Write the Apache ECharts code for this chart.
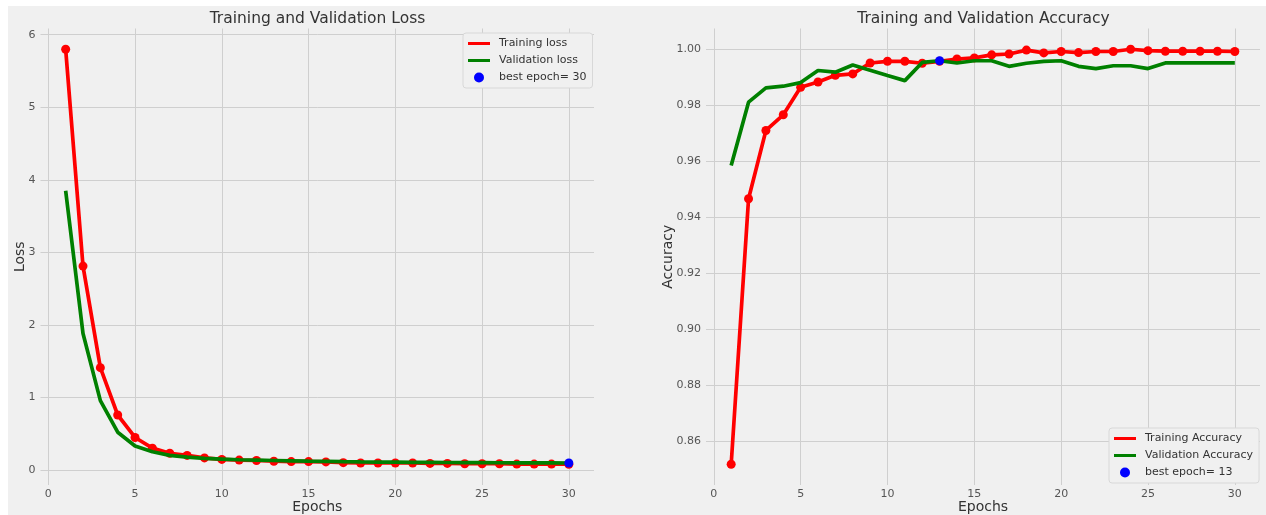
<!DOCTYPE html>
<html>
<head>
<meta charset="utf-8">
<script src="https://cdn.jsdelivr.net/npm/echarts@6/dist/echarts.min.js"></script>
<style>
  html, body { margin: 0; padding: 0; background: #ffffff; width: 1266px; height: 515px; overflow: hidden; }
  #chart { position: absolute; left: 8px; top: 6px; width: 1258px; height: 509px; background: #f0f0f0; }
</style>
</head>
<body>
<div id="chart"></div>
<script>
// ---------- data ----------
const epochs = [1,2,3,4,5,6,7,8,9,10,11,12,13,14,15,16,17,18,19,20,21,22,23,24,25,26,27,28,29,30];
const lossTrain = [5.80, 2.81, 1.41, 0.757, 0.447, 0.30, 0.23, 0.20, 0.165, 0.145, 0.135, 0.13, 0.12, 0.115, 0.115, 0.11, 0.10, 0.095, 0.095, 0.095, 0.095, 0.09, 0.09, 0.085, 0.085, 0.085, 0.08, 0.08, 0.08, 0.078];
const lossVal = [3.85, 1.88, 0.955, 0.52, 0.33, 0.25, 0.20, 0.175, 0.16, 0.15, 0.14, 0.135, 0.13, 0.125, 0.12, 0.117, 0.113, 0.11, 0.108, 0.106, 0.104, 0.103, 0.102, 0.101, 0.100, 0.099, 0.098, 0.097, 0.096, 0.095];
const accTrain = [0.8517, 0.9465, 0.9709, 0.9765, 0.9863, 0.9882, 0.9906, 0.9911, 0.9950, 0.9956, 0.9956, 0.9949, 0.9956, 0.9964, 0.9968, 0.9979, 0.9982, 0.9996, 0.9986, 0.9991, 0.9987, 0.9991, 0.9991, 0.9999, 0.9994, 0.9992, 0.9992, 0.9992, 0.9992, 0.9991];
const accVal = [0.9584, 0.9810, 0.9861, 0.9867, 0.9880, 0.9923, 0.9917, 0.9943, 0.9924, 0.9905, 0.9887, 0.9952, 0.9958, 0.9950, 0.9958, 0.9958, 0.9938, 0.9949, 0.9956, 0.9958, 0.9938, 0.9930, 0.9940, 0.9940, 0.9930, 0.9950, 0.9950, 0.9950, 0.9950, 0.9950];
const bestLossEpoch = 30;
const bestAccEpoch = 13;
const xTicks = [0, 5, 10, 15, 20, 25, 30];
const lossTicks = [0, 1, 2, 3, 4, 5, 6];
const accTicks = [0.86, 0.88, 0.90, 0.92, 0.94, 0.96, 0.98, 1.00];
const titles = ['Training and Validation Loss', 'Training and Validation Accuracy'];
const xLabel = 'Epochs';
const yLabels = ['Loss', 'Accuracy'];
const lossNames = ['Training loss', 'Validation loss', 'best epoch= ' + bestLossEpoch];
const accNames = ['Training Accuracy', 'Validation Accuracy', 'best epoch= ' + bestAccEpoch];

// ---------- helpers ----------
const pairs = (ys) => epochs.map((e, i) => [e, ys[i]]);
function padded(arrs) {
  const all = [].concat(...arrs);
  const lo = Math.min(...all), hi = Math.max(...all);
  const m = (hi - lo) * 0.05;
  return [lo - m, hi + m];
}
const xPad = (epochs[epochs.length - 1] - epochs[0]) * 0.05;
const xMin = epochs[0] - xPad, xMax = epochs[epochs.length - 1] + xPad;
const lossExt = padded([lossTrain, lossVal]);
const accExt = padded([accTrain, accVal]);

const FONT = 'DejaVu Sans';
const gridColor = '#cfcfcf';
const tickColor = '#555555';
const txtColor = '#333333';

function xAxis(gi) {
  return {
    type: 'value', gridIndex: gi, min: xMin, max: xMax,
    name: xLabel, nameLocation: 'middle', nameGap: 15, nameMoveOverlap: false,
    nameTextStyle: { fontFamily: FONT, fontSize: 14, color: txtColor },
    axisLine: { show: false },
    axisTick: { show: false, customValues: xTicks },
    axisLabel: { customValues: xTicks, fontFamily: FONT, fontSize: 11, color: tickColor, margin: 4 },
    splitLine: { show: true, lineStyle: { color: gridColor, width: 1 } }
  };
}
function yAxis(gi, ext, ticks, name, gap, fmt) {
  return {
    type: 'value', gridIndex: gi, min: ext[0], max: ext[1],
    name: name, nameLocation: 'middle', nameGap: gap, nameMoveOverlap: false,
    nameTextStyle: { fontFamily: FONT, fontSize: 14, color: txtColor },
    axisLine: { show: false },
    axisTick: { show: false, customValues: ticks },
    axisLabel: { customValues: ticks, fontFamily: FONT, fontSize: 11, color: tickColor, margin: 5, formatter: fmt },
    splitLine: { show: true, lineStyle: { color: gridColor, width: 1 } }
  };
}
const lineIcon = 'path://M0,0h0.01v0.01h-0.01Z M0,3.6H22V6.4H0Z M0,10h0.01v-0.01h-0.01Z';

function legend(names, left, top) {
  return {
    orient: 'vertical', left: left, top: top,
    data: [
      { name: names[0], icon: lineIcon },
      { name: names[1], icon: lineIcon },
      { name: names[2], icon: 'circle', itemStyle: { color: '#0000ff', opacity: 1 } }
    ],
    itemWidth: 22, itemHeight: 10, itemGap: 6,
    padding: [5, 6, 5, 5],
    borderColor: '#d8d8d8', borderWidth: 1, borderRadius: 3,
    backgroundColor: '#f0f0f0',
    textStyle: { fontFamily: FONT, fontSize: 11, color: txtColor, padding: [0, 0, 0, 4] },
    selectedMode: false
  };
}

function series(names, gi, train, val, bestEpoch, bestVal) {
  return [
    { name: names[0], type: 'line', xAxisIndex: gi, yAxisIndex: gi, data: pairs(train),
      symbol: 'circle', symbolSize: 9, showSymbol: true,
      lineStyle: { color: '#ff0000', width: 3.7 }, itemStyle: { color: '#ff0000' },
      z: 2, animation: false },
    { name: names[1], type: 'line', xAxisIndex: gi, yAxisIndex: gi, data: pairs(val),
      showSymbol: false, symbol: 'none',
      lineStyle: { color: '#008000', width: 3.7 }, itemStyle: { color: '#008000' },
      z: 3, animation: false },
    { name: names[2], type: 'scatter', xAxisIndex: gi, yAxisIndex: gi, data: [[bestEpoch, bestVal]],
      symbol: 'circle', symbolSize: 9, itemStyle: { color: '#0000ff', opacity: 1 },
      z: 4, animation: false }
  ];
}

const chart = echarts.init(document.getElementById('chart'), null, { renderer: 'canvas' });
chart.setOption({
  animation: false,
  backgroundColor: '#f0f0f0',
  textStyle: { fontFamily: FONT },
  grid: [
    { left: 32.5, top: 22.5, width: 553.5, height: 456.5, containLabel: false, outerBoundsMode: 'none' },
    { left: 698, top: 22.5, width: 554, height: 456.5, containLabel: false, outerBoundsMode: 'none' }
  ],
  graphic: [
    { type: 'text', x: 309.5, y: 12.5, style: { text: titles[0], fontFamily: FONT, fontSize: 15.5, fill: txtColor, align: 'center', verticalAlign: 'middle' } },
    { type: 'text', x: 975.5, y: 12.5, style: { text: titles[1], fontFamily: FONT, fontSize: 15.5, fill: txtColor, align: 'center', verticalAlign: 'middle' } }
  ],
  xAxis: [xAxis(0), xAxis(1)],
  yAxis: [
    yAxis(0, lossExt, lossTicks, yLabels[0], 13.5, (v) => String(Math.round(v))),
    yAxis(1, accExt, accTicks, yLabels[1], 31, (v) => v.toFixed(2))
  ],
  legend: [legend(lossNames, 455, 27), legend(accNames, 1101, 422)],
  series: [
    ...series(lossNames, 0, lossTrain, lossVal, bestLossEpoch, lossVal[bestLossEpoch - 1]),
    ...series(accNames, 1, accTrain, accVal, bestAccEpoch, accVal[bestAccEpoch - 1])
  ]
});
</script>
</body>
</html>
